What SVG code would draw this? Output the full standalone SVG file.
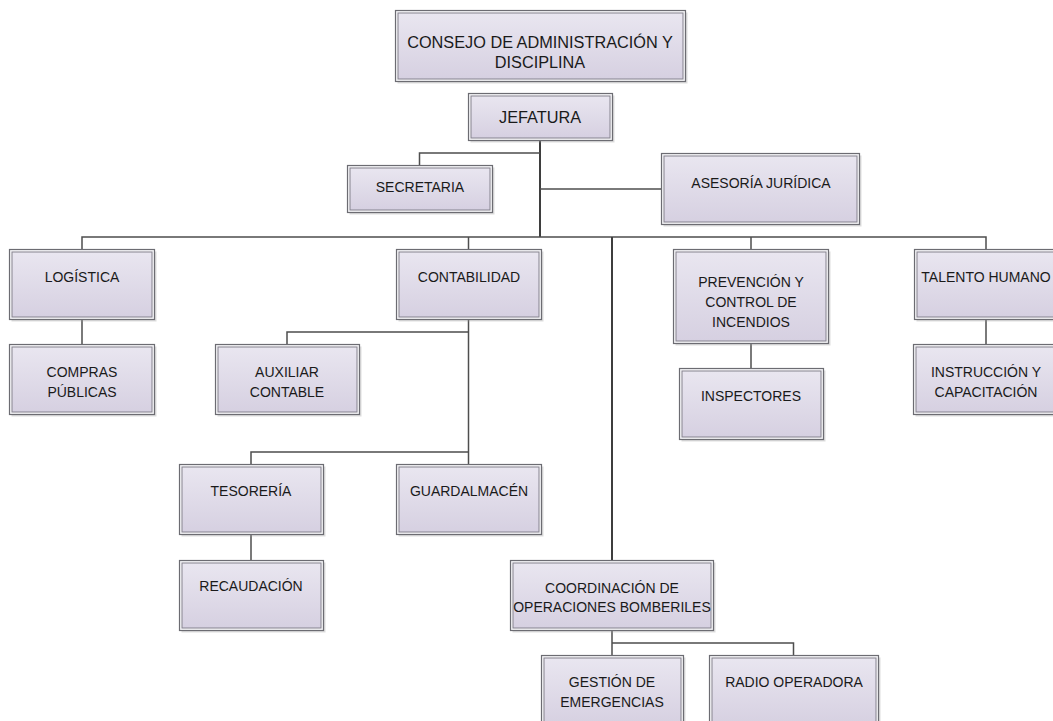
<svg xmlns="http://www.w3.org/2000/svg" width="1053" height="721" viewBox="0 0 1053 721">
  <defs>
    <linearGradient id="boxFill" x1="0" y1="0" x2="0" y2="1">
      <stop offset="0" stop-color="#e9e6f0"/>
      <stop offset="1" stop-color="#d6d0e1"/>
    </linearGradient>
    <style>
      .sh { fill: #9a9a9a; opacity: 0.35; }
      .o { fill: #f6f5f8; stroke: #6c6c72; stroke-width: 1.2; }
      .i { fill: url(#boxFill); stroke: #85838e; stroke-width: 1; }
      .t { font-family: "Liberation Sans", Arial, sans-serif; font-size: 14px; fill: #1a1a1a; text-anchor: middle; }
      .big { font-size: 16.3px; }
      .c { fill: none; stroke: #4e4e4e; stroke-width: 1.5; }
      .trunk { stroke: #3e3e3e; stroke-width: 2; }
    </style>
  </defs>
  <rect width="1053" height="721" fill="#ffffff"/>

  <!-- connectors -->
  <g id="connectors">
    <path class="c trunk" d="M540 140 V237"/>
    <path class="c" d="M540 153 H419.5 V165"/>
    <path class="c" d="M540 189 H661"/>
    <path class="c" d="M82 249 V237 H986 V249"/>
    <path class="c" d="M468.5 237 V249"/>
    <path class="c" d="M751 237 V249"/>
    <path class="c trunk" d="M612 237 V560"/>
    <path class="c" d="M82 319 V344"/>
    <path class="c" d="M468.5 319 V464"/>
    <path class="c" d="M468.5 332 H287 V344"/>
    <path class="c" d="M468.5 452 H251 V464"/>
    <path class="c" d="M251 534 V560"/>
    <path class="c" d="M612 630 V655"/>
    <path class="c" d="M612 643 H793.5 V655"/>
    <path class="c" d="M751 343 V368"/>
    <path class="c" d="M986 319 V344"/>
  </g>

  <!-- nodes: shadow, outer frame, inner gradient panel, label -->
  <g id="consejo">
    <rect class="sh" x="397.5" y="12.5" width="290" height="71"/>
    <rect class="o" x="395.5" y="10.5" width="290" height="71"/>
    <rect class="i" x="398" y="13" width="285" height="66"/>
    <text class="t big" x="540" y="48">CONSEJO DE ADMINISTRACIÓN Y</text>
    <text class="t big" x="540" y="68">DISCIPLINA</text>
  </g>

  <g id="jefatura">
    <rect class="sh" x="470.5" y="95.5" width="144" height="47"/>
    <rect class="o" x="468.5" y="93.5" width="144" height="47"/>
    <rect class="i" x="471" y="96" width="139" height="42"/>
    <text class="t big" x="540" y="123">JEFATURA</text>
  </g>

  <g id="secretaria">
    <rect class="sh" x="349.5" y="167.5" width="145" height="47"/>
    <rect class="o" x="347.5" y="165.5" width="145" height="47"/>
    <rect class="i" x="350" y="168" width="140" height="42"/>
    <text class="t" x="420" y="192">SECRETARIA</text>
  </g>

  <g id="asesoria">
    <rect class="sh" x="663.5" y="155.5" width="198" height="71"/>
    <rect class="o" x="661.5" y="153.5" width="198" height="71"/>
    <rect class="i" x="664" y="156" width="193" height="66"/>
    <text class="t" x="761" y="188">ASESORÍA JURÍDICA</text>
  </g>

  <g id="logistica">
    <rect class="sh" x="11.5" y="251.5" width="145" height="70"/>
    <rect class="o" x="9.5" y="249.5" width="145" height="70"/>
    <rect class="i" x="12" y="252" width="140" height="65"/>
    <text class="t" x="82" y="282">LOGÍSTICA</text>
  </g>

  <g id="compras">
    <rect class="sh" x="11.5" y="346.5" width="145" height="70"/>
    <rect class="o" x="9.5" y="344.5" width="145" height="70"/>
    <rect class="i" x="12" y="347" width="140" height="65"/>
    <text class="t" x="82" y="377">COMPRAS</text>
    <text class="t" x="82" y="397">PÚBLICAS</text>
  </g>

  <g id="contabilidad">
    <rect class="sh" x="398.5" y="251.5" width="145" height="70"/>
    <rect class="o" x="396.5" y="249.5" width="145" height="70"/>
    <rect class="i" x="399" y="252" width="140" height="65"/>
    <text class="t" x="469" y="282">CONTABILIDAD</text>
  </g>

  <g id="auxiliar">
    <rect class="sh" x="217.5" y="346.5" width="144" height="70"/>
    <rect class="o" x="215.5" y="344.5" width="144" height="70"/>
    <rect class="i" x="218" y="347" width="139" height="65"/>
    <text class="t" x="287" y="377">AUXILIAR</text>
    <text class="t" x="287" y="397">CONTABLE</text>
  </g>

  <g id="tesoreria">
    <rect class="sh" x="181.5" y="466.5" width="144" height="70"/>
    <rect class="o" x="179.5" y="464.5" width="144" height="70"/>
    <rect class="i" x="182" y="467" width="139" height="65"/>
    <text class="t" x="251" y="496">TESORERÍA</text>
  </g>

  <g id="guardalmacen">
    <rect class="sh" x="398.5" y="466.5" width="145" height="70"/>
    <rect class="o" x="396.5" y="464.5" width="145" height="70"/>
    <rect class="i" x="399" y="467" width="140" height="65"/>
    <text class="t" x="469" y="496">GUARDALMACÉN</text>
  </g>

  <g id="recaudacion">
    <rect class="sh" x="181.5" y="562.5" width="144" height="70"/>
    <rect class="o" x="179.5" y="560.5" width="144" height="70"/>
    <rect class="i" x="182" y="563" width="139" height="65"/>
    <text class="t" x="251" y="591">RECAUDACIÓN</text>
  </g>

  <g id="prevencion">
    <rect class="sh" x="675.5" y="251.5" width="155" height="94"/>
    <rect class="o" x="673.5" y="249.5" width="155" height="94"/>
    <rect class="i" x="676" y="252" width="150" height="89"/>
    <text class="t" x="751" y="287">PREVENCIÓN Y</text>
    <text class="t" x="751" y="307">CONTROL DE</text>
    <text class="t" x="751" y="327">INCENDIOS</text>
  </g>

  <g id="inspectores">
    <rect class="sh" x="681.5" y="370.5" width="144" height="71"/>
    <rect class="o" x="679.5" y="368.5" width="144" height="71"/>
    <rect class="i" x="682" y="371" width="139" height="66"/>
    <text class="t" x="751" y="401">INSPECTORES</text>
  </g>

  <g id="talento">
    <rect class="sh" x="916.5" y="251.5" width="145" height="70"/>
    <rect class="o" x="914.5" y="249.5" width="145" height="70"/>
    <rect class="i" x="917" y="252" width="140" height="65"/>
    <text class="t" x="986" y="282">TALENTO HUMANO</text>
  </g>

  <g id="instruccion">
    <rect class="sh" x="915.5" y="346.5" width="146" height="70"/>
    <rect class="o" x="913.5" y="344.5" width="146" height="70"/>
    <rect class="i" x="916" y="347" width="141" height="65"/>
    <text class="t" x="986" y="377">INSTRUCCIÓN Y</text>
    <text class="t" x="986" y="397">CAPACITACIÓN</text>
  </g>

  <g id="coordinacion">
    <rect class="sh" x="512.5" y="562.5" width="203" height="70"/>
    <rect class="o" x="510.5" y="560.5" width="203" height="70"/>
    <rect class="i" x="513" y="563" width="198" height="65"/>
    <text class="t" x="612" y="593">COORDINACIÓN DE</text>
    <text class="t" x="612" y="612">OPERACIONES BOMBERILES</text>
  </g>

  <g id="gestion">
    <rect class="sh" x="543.5" y="657.5" width="142" height="72"/>
    <rect class="o" x="541.5" y="655.5" width="142" height="72"/>
    <rect class="i" x="544" y="658" width="137" height="67"/>
    <text class="t" x="612" y="687">GESTIÓN DE</text>
    <text class="t" x="612" y="707">EMERGENCIAS</text>
  </g>

  <g id="radio">
    <rect class="sh" x="711.5" y="657.5" width="169" height="72"/>
    <rect class="o" x="709.5" y="655.5" width="169" height="72"/>
    <rect class="i" x="712" y="658" width="164" height="67"/>
    <text class="t" x="794" y="687">RADIO OPERADORA</text>
  </g>
</svg>
